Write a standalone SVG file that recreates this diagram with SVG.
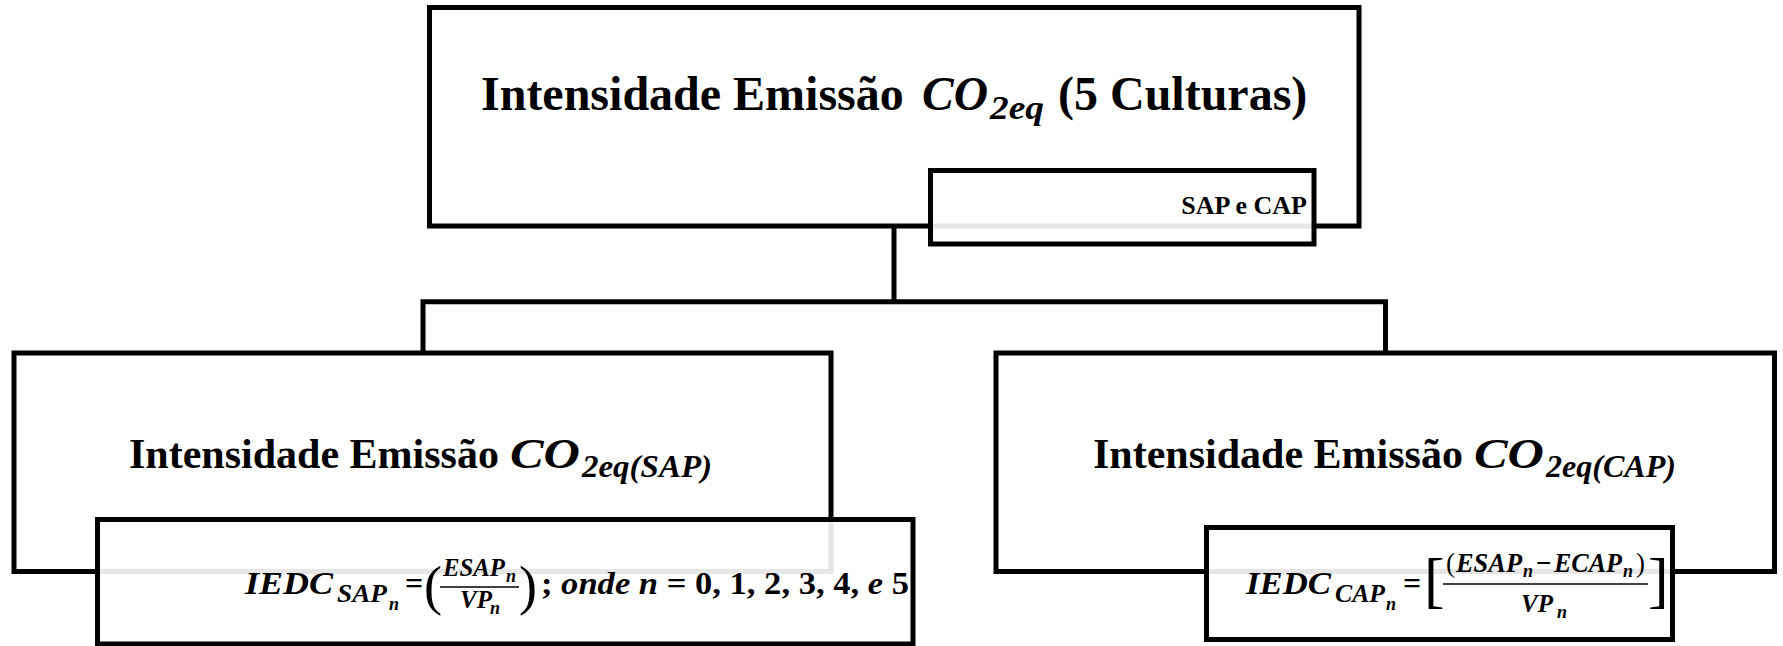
<svg xmlns="http://www.w3.org/2000/svg" width="1783" height="646" viewBox="0 0 1783 646">
  <style>
    .box { fill: #ffffff; stroke: #000000; stroke-width: 5; }
    .inner { fill: #ffffff; fill-opacity: 0.9; stroke: #000000; stroke-width: 5; }
    .wire { fill: none; stroke: #000000; stroke-width: 5; }
    .bar { stroke: #000000; stroke-width: 1.6; }
    text { font-family: "Liberation Serif", "Times New Roman", serif; fill: #000000; font-weight: bold; }
    .t { font-size: 48px; }
    .t2 { font-size: 42px; }
    .m { font-style: italic; }
    .small { font-size: 26px; }
    .fm { font-size: 32px; font-style: italic; }
    .fu { font-size: 32px; }
    .fs { font-size: 25px; font-style: italic; }
    .fss { font-size: 18px; font-style: italic; }
    .num { font-size: 27px; }
    .paren { font-weight: normal; }
  </style>

  <!-- tree wiring -->
  <g id="connectors">
    <path class="wire" d="M894,226 V301.7"/>
    <path class="wire" d="M423,352.5 V301.7 H1385.5 V352.5"/>
  </g>

  <!-- root -->
  <g id="root">
    <rect class="box" x="429.5" y="7.5" width="929.5" height="218.5"/>
    <text class="t" x="481" y="110">Intensidade Emissão</text>
    <text class="t m" x="922" y="110" textLength="66" lengthAdjust="spacingAndGlyphs">CO</text>
    <text class="m" x="990" y="119" font-size="34" textLength="54" lengthAdjust="spacingAndGlyphs">2eq</text>
    <text class="t" x="1058" y="110">(5 Culturas)</text>
  </g>
  <g id="root-tag">
    <rect class="inner" x="930.5" y="170.5" width="383.5" height="73.5"/>
    <text class="small" x="1307" y="214" text-anchor="end">SAP e CAP</text>
  </g>

  <!-- left branch -->
  <g id="sap">
    <rect class="box" x="14" y="353" width="817" height="218.5"/>
    <text class="t2" x="129" y="468">Intensidade Emissão</text>
    <text class="t2 m" x="510" y="468" font-size="44" textLength="70" lengthAdjust="spacingAndGlyphs">CO</text>
    <text class="m" x="582" y="477" font-size="31" textLength="130" lengthAdjust="spacingAndGlyphs">2eq(SAP)</text>
  </g>
  <g id="sap-formula">
    <rect class="inner" x="97.5" y="519.5" width="815.5" height="124.5"/>
    <text class="fm" x="245" y="594" textLength="88" lengthAdjust="spacingAndGlyphs">IEDC</text>
    <text class="fs" x="337" y="602" textLength="50" lengthAdjust="spacingAndGlyphs">SAP</text>
    <text class="fss" x="389" y="610">n</text>
    <text class="fu" x="405" y="594">=</text>
    <text class="paren" x="424" y="604" font-size="54">(</text>
    <text class="fs" x="443" y="576" font-size="23" textLength="62" lengthAdjust="spacingAndGlyphs">ESAP</text>
    <text class="fss" x="506" y="582" font-size="16">n</text>
    <line class="bar" x1="440" y1="587" x2="519" y2="587"/>
    <text class="fs" x="460" y="608" font-size="23">VP</text>
    <text class="fss" x="490" y="614" font-size="16">n</text>
    <text class="paren" x="519" y="604" font-size="54">)</text>
    <text class="fu" x="541" y="594" textLength="368" lengthAdjust="spacingAndGlyphs">; <tspan class="m">onde n</tspan> = 0, 1, 2, 3, 4, <tspan class="m">e</tspan> 5</text>
  </g>

  <!-- right branch -->
  <g id="cap">
    <rect class="box" x="996" y="353" width="778.5" height="218.5"/>
    <text class="t2" x="1093" y="468">Intensidade Emissão</text>
    <text class="t2 m" x="1474" y="468" font-size="44" textLength="70" lengthAdjust="spacingAndGlyphs">CO</text>
    <text class="m" x="1546" y="477" font-size="31" textLength="130" lengthAdjust="spacingAndGlyphs">2eq(CAP)</text>
  </g>
  <g id="cap-formula">
    <rect class="inner" x="1206.5" y="527.5" width="466" height="112"/>
    <text class="fm" x="1246" y="594" textLength="85" lengthAdjust="spacingAndGlyphs">IEDC</text>
    <text class="fs" x="1335" y="602" textLength="50" lengthAdjust="spacingAndGlyphs">CAP</text>
    <text class="fss" x="1386" y="610">n</text>
    <text class="fu" x="1403" y="594">=</text>
    <text class="paren" x="1424" y="601" font-size="62">[</text>
    <!-- numerator pieces -->
    <text class="num paren" x="1446" y="572">(</text>
    <text class="num m" x="1456" y="572" textLength="66" lengthAdjust="spacingAndGlyphs">ESAP</text>
    <text class="fss" x="1523" y="577" font-size="19">n</text>
    <text class="num" x="1536" y="572">−</text>
    <text class="num m" x="1554" y="572" textLength="68" lengthAdjust="spacingAndGlyphs">ECAP</text>
    <text class="fss" x="1623" y="577" font-size="19">n</text>
    <text class="num paren" x="1636" y="572">)</text>
    <line class="bar" x1="1443" y1="584" x2="1648" y2="584"/>
    <text class="fs" x="1521" y="612" font-size="27">VP</text>
    <text class="fss" x="1557" y="618" font-size="19">n</text>
    <text class="paren" x="1648" y="601" font-size="62">]</text>
  </g>
</svg>
